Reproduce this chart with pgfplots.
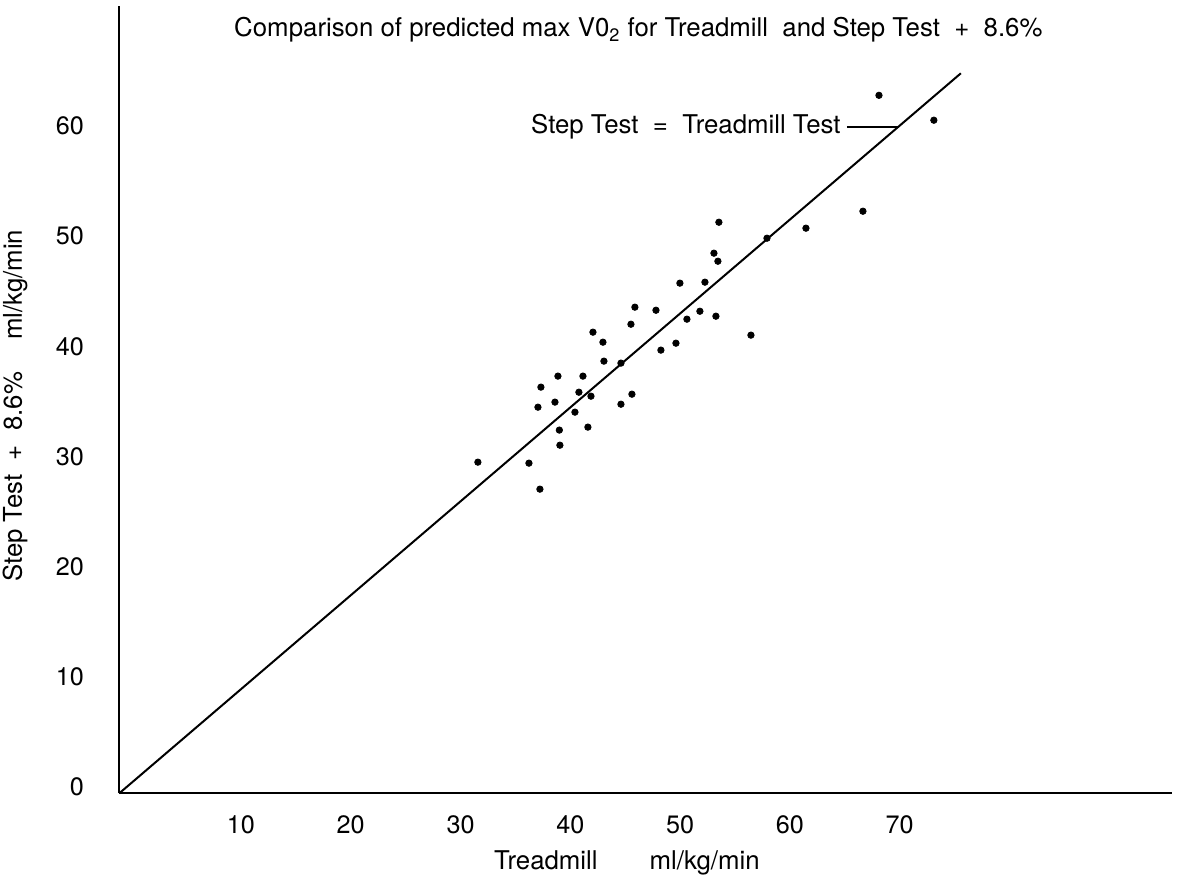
\documentclass[border=0pt]{standalone}
\usepackage{fontspec}
\setmainfont{TeX Gyre Heros}
\usepackage{pgfplots}
\pgfplotsset{compat=1.18}
\begin{document}
\begin{tikzpicture}[font=\fontsize{12.9}{15}\selectfont]
\useasboundingbox (-59.65pt,-47.85pt) rectangle (530.35pt,396.65pt);
\begin{axis}[
  at={(0pt,0pt)}, anchor=south west,
  scale only axis, width=526.35pt, height=393.65pt,
  xmin=-1.08, xmax=94.8, ymin=-0.57, ymax=70.9,
  axis x line*=bottom, axis y line*=left,
  axis line style={-, line width=1pt, black},
  xtick={10,20,...,70}, ytick={0,10,...,60},
  major tick length=0pt, tick style={draw=none},
  /pgf/number format/assume math mode=true,
  xticklabel style={anchor=north, inner sep=0pt, yshift=-11pt, font=\fontsize{12.6}{15}\selectfont},
  yticklabel style={anchor=east, inner sep=0pt, xshift=-17.5pt, font=\fontsize{12.6}{15}\selectfont},
  clip=false,
]
\addplot[black, line width=1pt, no marks] coordinates {(-1.08,-0.57) (75.57,64.79)};
\addplot[only marks, mark=*, mark size=1.6pt, black] coordinates {
(31.58,29.49) (36.23,29.40) (37.23,27.04) (37.05,34.48) (37.32,36.30)
(38.60,34.94) (38.87,37.30) (39.00,32.40) (39.05,31.03) (40.42,34.03)
(40.78,35.84) (41.15,37.30) (41.60,32.67) (41.88,35.48) (42.06,41.29)
(42.97,40.38) (43.06,38.66) (44.61,38.48) (44.61,34.75) (45.61,35.66)
(45.52,42.01) (45.88,43.56) (47.80,43.28) (48.25,39.66) (49.62,40.29)
(49.98,45.74) (50.62,42.47) (51.80,43.19) (52.26,45.83) (53.08,48.46)
(53.26,42.74) (53.44,47.73) (53.53,51.27) (56.45,41.02) (57.91,49.82)
(61.46,50.73) (66.65,52.27) (68.11,62.79) (73.11,60.53)
};
\draw[black, line width=0.9pt] (axis cs:65.19,59.94) -- (axis cs:69.92,59.94);
\node[anchor=base east, inner sep=0pt] at (axis cs:64.65,59.35) {Step Test\ \ =\ \ Treadmill Test};
\node[anchor=base, inner sep=0pt] at (axis cs:46.2,68.1) {Comparison of predicted max V0\textsubscript{2} for Treadmill\ \ and Step Test\ \ +\ \ 8.6\%};
\node[anchor=base, inner sep=0pt] at (axis cs:45.15,-7.53) {Treadmill\hspace*{26pt}ml/kg/min};
\node[anchor=base, inner sep=0pt, rotate=90] at (axis cs:-9.95,34.6) {Step Test\ \ +\ \ 8.6\%\hspace*{16pt}ml/kg/min};
\end{axis}
\end{tikzpicture}
\end{document}
